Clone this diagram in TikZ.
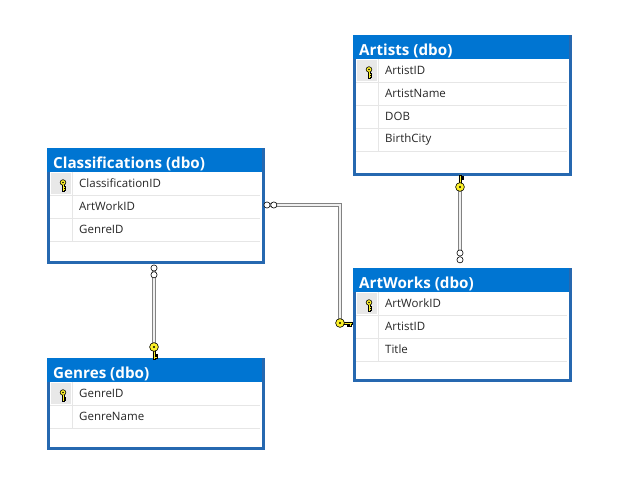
\documentclass[tikz,border=0pt]{standalone}
\usepackage{fontspec}
\setmainfont{Open Sans}
\definecolor{titleblue}{RGB}{0,117,210}
\definecolor{frameblue}{RGB}{38,104,176}
\definecolor{sepgray}{RGB}{230,230,230}
\definecolor{keycell}{RGB}{232,232,232}
\definecolor{keyyellow}{RGB}{252,240,40}
\definecolor{linegray}{RGB}{130,130,130}
\tikzset{
  tablebox/.style={draw=frameblue, line width=3pt, fill=white, inner sep=0pt, anchor=north west},
  titletext/.style={anchor=base west, inner sep=0pt, text=white, font=\fontsize{15.2}{17}\selectfont\bfseries},
  rowtext/.style={anchor=west, inner sep=0pt, text=black!85, font=\fontsize{11.5}{14}\selectfont},
  sepline/.style={draw=sepgray, line width=0.8pt},
  rel/.style={draw=linegray, double=white!88!gray, double distance=1.8pt, line width=1.3pt},
  infmark/.style={draw=black, fill=white, line width=0.6pt},
  rowkey/.pic={
    \draw[fill=keyyellow, line width=0.6pt] (0,-2.5) circle (2.8);
    \draw[fill=keyyellow, line width=0.6pt] (-1,0) -- (-1,6) -- (1,6) -- (1,5) -- (2.6,5) -- (2.6,3.8) -- (1,3.8) -- (1,3) -- (2.6,3) -- (2.6,1.8) -- (1,1.8) -- (1,0);
    \fill (0,-2.5) circle (0.9);
  },
  relkey/.pic={
    \draw[fill=keyyellow, line width=0.6pt] (-1.1,-3) -- (-1.1,-12) -- (1.1,-12) -- (1.1,-11) -- (3,-11) -- (3,-9.6) -- (1.1,-9.6) -- (1.1,-8.6) -- (3,-8.6) -- (3,-7.2) -- (1.1,-7.2) -- (1.1,-3) -- cycle;
    \draw[fill=keyyellow, line width=0.6pt] (0,0) circle (4.4);
    \fill (0,0) circle (1.2);
  }
}
\newcommand\dbtable[7]{%
  \node[tablebox, minimum width=#4pt, minimum height=#5pt] (#1) at (#2,#3) {};
  \fill[titleblue] (#2,#3) rectangle ++(#4,24);
  \node[titletext] (#1-title) at (#2+6,#3+20.5) {#6};
  \fill[keycell] (#2+4,#3+25) rectangle (#2+24,#3+46);
  \pic at (#2+16,#3+37) {rowkey};
  \foreach \r [count=\i] in {#7} {
    \draw[sepline] (#2+3,#3+24+23*\i) -- (#2+#4-2,#3+24+23*\i);
    \draw[sepline] (#2+25,#3+24+23*\i-23) -- (#2+25,#3+24+23*\i);
    \node[rowtext] (#1-row\i) at (#2+32,#3+24+23*\i-11.5) {\r};
  }
}
\begin{document}
\begin{tikzpicture}[x=1pt, y={(0pt,-1pt)}]
\useasboundingbox[fill=white] (0,0) rectangle (627,497);
\dbtable{artists}{353}{35}{216}{138}{Artists (dbo)}{ArtistID,ArtistName,DOB,BirthCity}
\dbtable{classif}{47}{148}{215}{113}{Classifications (dbo)}{ClassificationID,ArtWorkID,GenreID}
\dbtable{artworks}{353}{268}{216}{111}{ArtWorks (dbo)}{ArtWorkID,ArtistID,Title}
\dbtable{genres}{47}{358}{215}{89}{Genres (dbo)}{GenreID,GenreName}
% relationship end points
\coordinate (aa-key) at (460,187);
\coordinate (aa-inf) at (460,253);
\coordinate (cg-inf) at (154,268);
\coordinate (cg-key) at (154,347);
\coordinate (ca-inf) at (267,205);
\coordinate (ca-key) at (340,323);
\draw[rel] (aa-key) -- (aa-inf);
\draw[rel] (cg-inf) -- (cg-key);
\draw[rel] (ca-inf) -| (ca-key);
\pic at (aa-key) {relkey};
\pic[yscale=-1] at (cg-key) {relkey};
\pic[rotate=-90] at (ca-key) {relkey};
\draw[infmark] (aa-inf) circle (3.1);
\draw[infmark] ([yshift=-6.8pt]aa-inf) circle (3.1);
\draw[infmark] (cg-inf) circle (3.1);
\draw[infmark] ([yshift=-6.8pt]cg-inf) circle (3.1);
\draw[infmark] (ca-inf) circle (3.1);
\draw[infmark] ([xshift=6.8pt]ca-inf) circle (3.1);
\end{tikzpicture}
\end{document}
